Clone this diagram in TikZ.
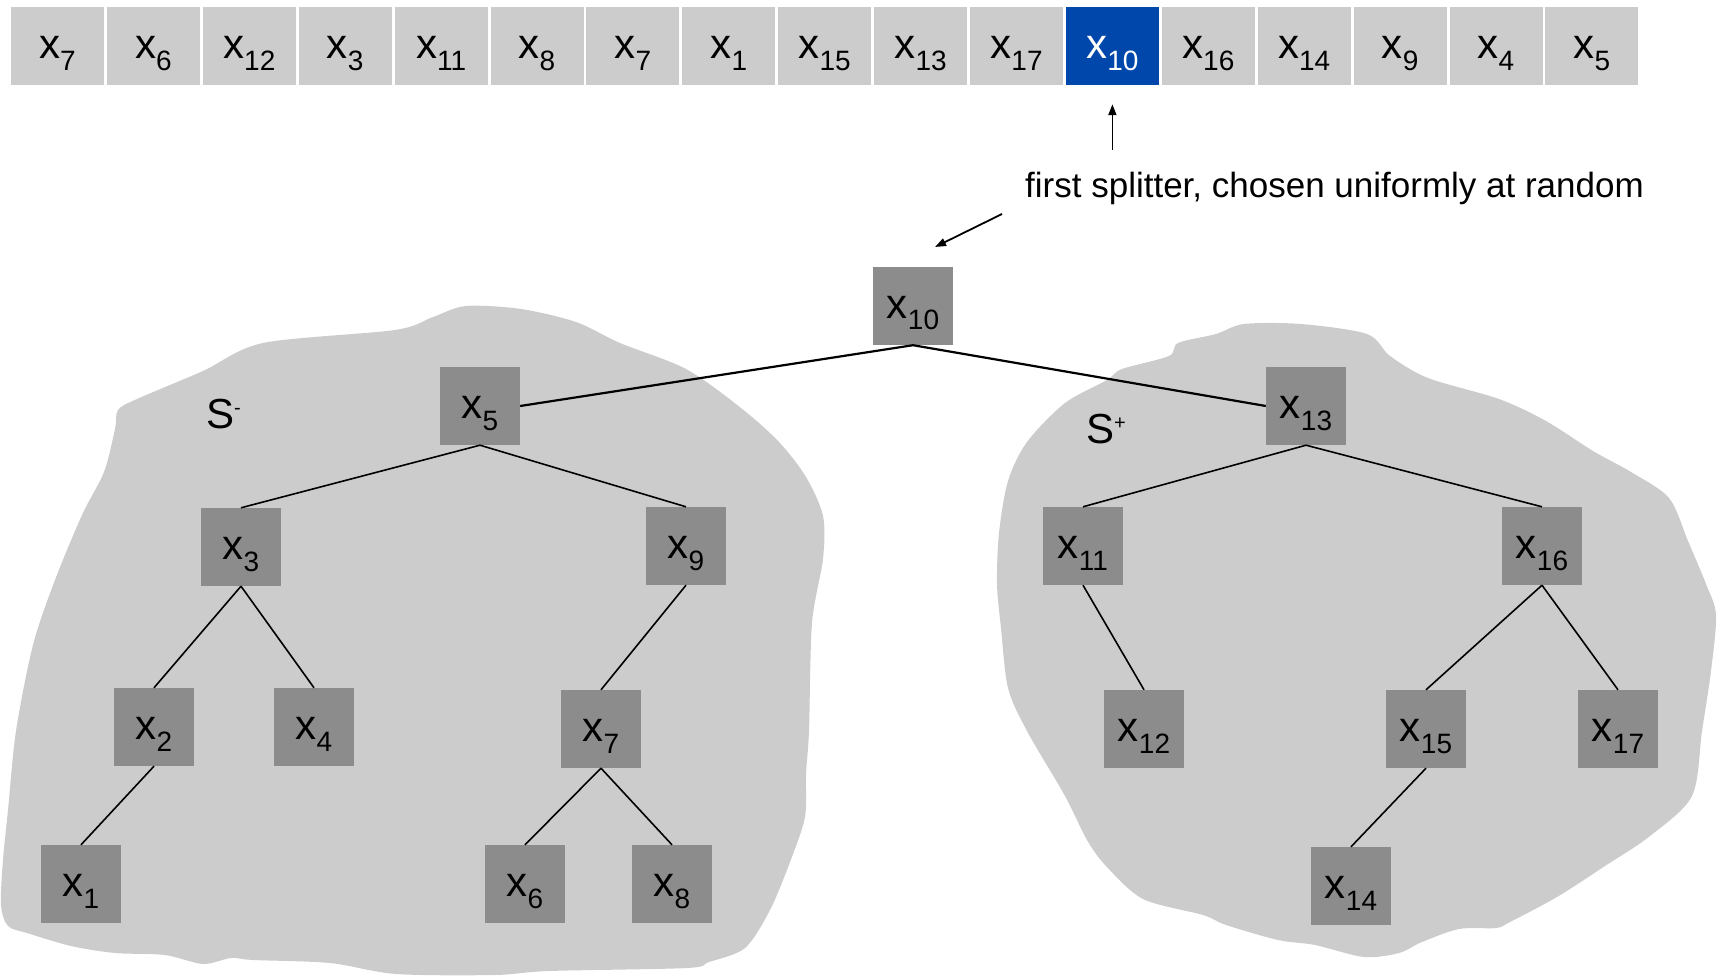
\documentclass[tikz,border=0pt]{standalone}
\usepackage{fontspec}
\setmainfont{Liberation Sans}
\usetikzlibrary{arrows.meta}
\definecolor{cellgray}{RGB}{204,204,204}
\definecolor{nodegray}{RGB}{140,140,140}
\definecolor{pickblue}{RGB}{0,71,171}
\newcommand{\xs}[1]{x\raisebox{-11.7pt}{\fontsize{28}{28}\selectfont #1}}
\newcommand{\sset}[1]{S\raisebox{14pt}{\fontsize{20}{20}\selectfont #1}}
\tikzset{
  cell/.style={fill=cellgray, minimum width=93pt, minimum height=77.7pt, inner sep=0pt,
    text height=30pt, text depth=5.4pt, font=\fontsize{42}{44}\selectfont},
  pick/.style={cell, fill=pickblue, text=white},     % the splitter
  tnode/.style={cell, fill=nodegray, minimum width=80pt, minimum height=78pt},
  blob/.style={fill=cellgray},
  tedge/.style={line width=1.6pt},
  rootedge/.style={line width=2.2pt},
  ptr/.style={-{Triangle[length=11pt,width=8pt]}, line width=1.8pt},
  note/.style={font=\fontsize{35}{40}\selectfont, inner sep=0pt},
  setlabel/.style={font=\fontsize{42}{44}\selectfont, inner sep=0pt}
}

\begin{document}
\begin{tikzpicture}[x=1pt,y=-1pt]
  \useasboundingbox (0,0) rectangle (1719,976);
  % the two halves S- and S+
  \fill[blob] plot[smooth cycle, tension=0.5] coordinates {
    (118,410) (137,399) (203,371) (263,343) (395,330) (433,317) (466,306) (521,309)
    (576,322) (620,343) (686,369) (741,408) (779,442) (806,477) (823,516) (823,559)
    (812,623) (809,731) (806,774) (805,817) (790,862) (770,910) (745,948) (709,962)
    (687,968) (549,971) (495,975) (396,974) (330,963) (253,960) (231,958) (203,964)
    (165,955) (115,953) (71,946) (27,933) (8,926) (1,905) (3,860) (8,810) (16,731)
    (33,645) (55,580) (82,515) (104,472) (115,429)};
  \fill[blob] plot[smooth cycle, tension=0.5] coordinates {
    (1065,403) (1027,442) (1008,481) (999,533) (997,584) (1001,628) (1008,688)
    (1027,731) (1065,796) (1087,840) (1106,866) (1143,899) (1203,915) (1226,925)
    (1278,940) (1315,945) (1364,957) (1399,953) (1422,942) (1459,929) (1496,928)
    (1510,922) (1557,897) (1605,866) (1650,836) (1692,796) (1702,731) (1711,671)
    (1716,615) (1706,584) (1688,541) (1669,498) (1631,472) (1593,451) (1546,421)
    (1499,399) (1428,378) (1390,356) (1367,334) (1301,324) (1244,324) (1216,334)
    (1178,343) (1169,356) (1122,369) (1107,380)};

  % input array
  \foreach \v [count=\i from 0] in {7,6,12,3,11,8,7,1,15,13,17,10,16,14,9,4,5}{%
    \ifnum\i=11 \def\cs{pick}\else\def\cs{cell}\fi
    \node[\cs] (a\i) at ({57.5+95.9*\i},46.2) {\xs{\v}};
  }

  % tree
  \foreach \n/\x/\y in {10/913/306, 5/480/406, 13/1306/406, 3/241/547, 9/686/546,
      2/154/727, 4/314/727, 7/601/729, 1/81/884, 6/525/884, 8/672/884,
      11/1083/546, 16/1542/546, 12/1144/729, 15/1426/729, 17/1618/729, 14/1351/886}{%
    \node[tnode] (n\n) at (\x,\y) {\xs{\n}};
  }
  \draw[rootedge] (n10.south) -- (n5.east);
  \draw[rootedge] (n10.south) -- (n13.west);
  \foreach \a/\b in {5/3, 5/9, 3/2, 3/4, 2/1, 9/7, 7/6, 7/8,
      13/11, 13/16, 11/12, 16/15, 16/17, 15/14}{%
    \draw[tedge] (n\a.south) -- (n\b.north);
  }

  \node[setlabel, anchor=base west] (sminus) at (206,428) {\sset{-}};
  \node[setlabel, anchor=base west] (splus) at (1086,443) {\sset{+}};

  % annotation
  \node[note, anchor=base west] (note) at (1025,198) {first splitter, chosen uniformly at random};
  \coordinate (uptail) at ([yshift=-65pt]a11.south);
  \draw[ptr, shorten >=19pt] (uptail) -- (a11.south);
  \coordinate (hint) at (1002,214);
  \coordinate (hinttip) at (935,247);
  \draw[ptr] (hint) -- (hinttip);
\end{tikzpicture}
\end{document}
